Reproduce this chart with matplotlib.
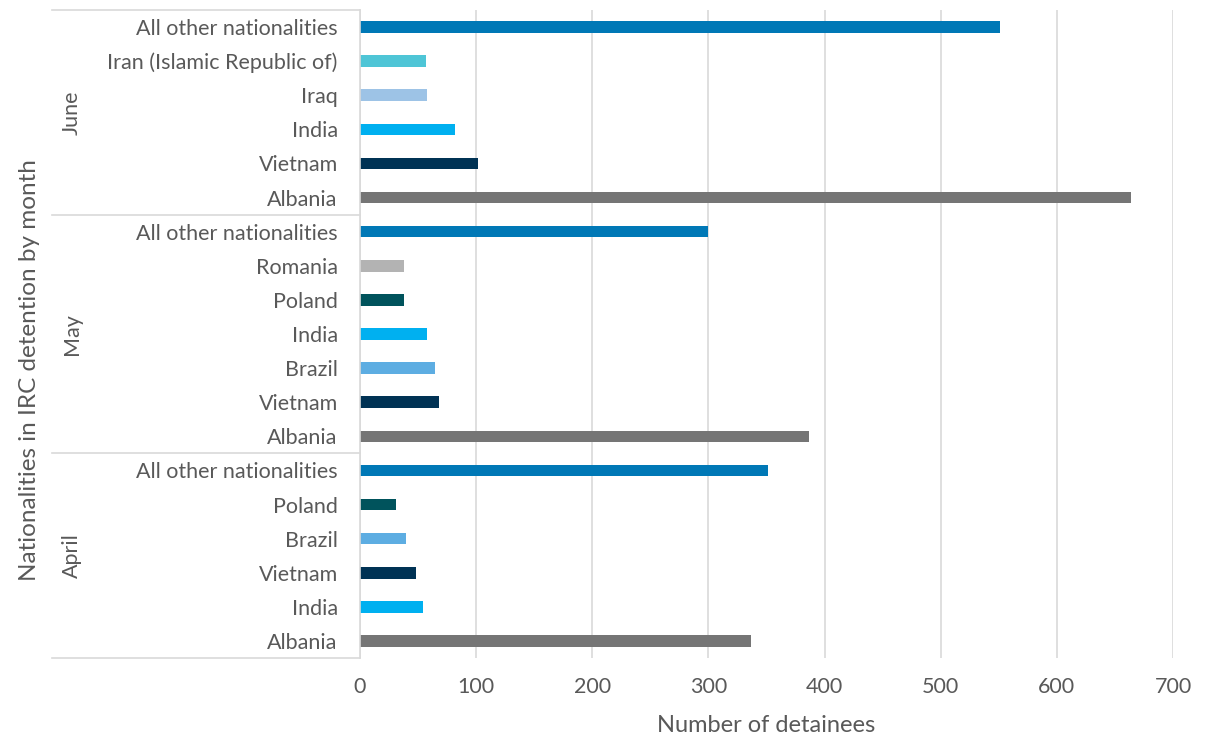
import matplotlib
matplotlib.use("Agg")
import matplotlib.pyplot as plt
import numpy as np

plt.rcParams["font.family"] = ["Lato", "DejaVu Sans"]

# bottom to top within each month, months listed bottom to top
months = ["April", "May", "June"]
april_names = ["Albania", "India", "Vietnam", "Brazil", "Poland", "All other nationalities"]
april_values = [337, 54, 48, 40, 31, 351]
may_names = ["Albania", "Vietnam", "Brazil", "India", "Poland", "Romania", "All other nationalities"]
may_values = [387, 68, 65, 58, 38, 38, 300]
june_names = ["Albania", "Vietnam", "India", "Iraq", "Iran (Islamic Republic of)", "All other nationalities"]
june_values = [664, 102, 82, 58, 57, 551]

colors = {
    "Albania": "#757575",
    "Vietnam": "#003254",
    "India": "#00B0F0",
    "Brazil": "#5DADE2",
    "Poland": "#00535C",
    "Romania": "#B3B3B3",
    "Iraq": "#9DC3E6",
    "Iran (Islamic Republic of)": "#4EC5D6",
    "All other nationalities": "#0078B6",
}

groups = [(april_names, april_values), (may_names, may_values), (june_names, june_values)]
names = [n for g in groups for n in g[0]]
values = [v for g in groups for v in g[1]]
ypos = np.arange(len(names))

GRID = "#D9D9D9"
TEXT = "#595959"

fig = plt.figure(figsize=(12.06, 7.42), dpi=100)
ax = fig.add_axes([360 / 1206, 1 - 658 / 742, 813 / 1206, 648 / 742])

ax.barh(ypos, values, height=0.34, color=[colors[n] for n in names])
ax.set_ylim(-0.5, len(names) - 0.5)
ax.set_xlim(0, 700)
ax.set_xticks(np.arange(0, 701, 100))
ax.set_yticks(ypos)
ax.set_yticklabels(names)
ax.tick_params(axis="y", length=0, pad=16, labelsize=15.5, labelcolor=TEXT)
ax.tick_params(axis="x", length=0, pad=14, labelsize=15.5, labelcolor=TEXT)
ax.grid(axis="x", color=GRID, linewidth=1.2)
ax.set_axisbelow(True)
for s in ["top", "right", "bottom"]:
    ax.spines[s].set_visible(False)
ax.spines["left"].set_color(GRID)
ax.spines["left"].set_linewidth(1.2)

# month group separators and labels
trans = ax.get_yaxis_transform()
x_left = (52 - 360) / 813
start = -0.5
for month, (g_names, _) in zip(months, groups):
    end = start + len(g_names)
    ax.plot([x_left, 0], [start, start], transform=trans, color=GRID, lw=1.2, clip_on=False)
    ax.text((72 - 360) / 813, (start + end) / 2, month, transform=trans, rotation=90,
            ha="center", va="center", fontsize=15.5, color=TEXT)
    start = end
ax.plot([x_left, 0], [start, start], transform=trans, color=GRID, lw=1.2, clip_on=False)

ax.set_xlabel("Number of detainees", fontsize=17, color=TEXT, labelpad=13)
fig.text(30 / 1206, 1 - 370 / 742, "Nationalities in IRC detention by month", rotation=90,
         ha="center", va="center", fontsize=17.5, color=TEXT)

fig.savefig("out.png", dpi=100, facecolor="white")
